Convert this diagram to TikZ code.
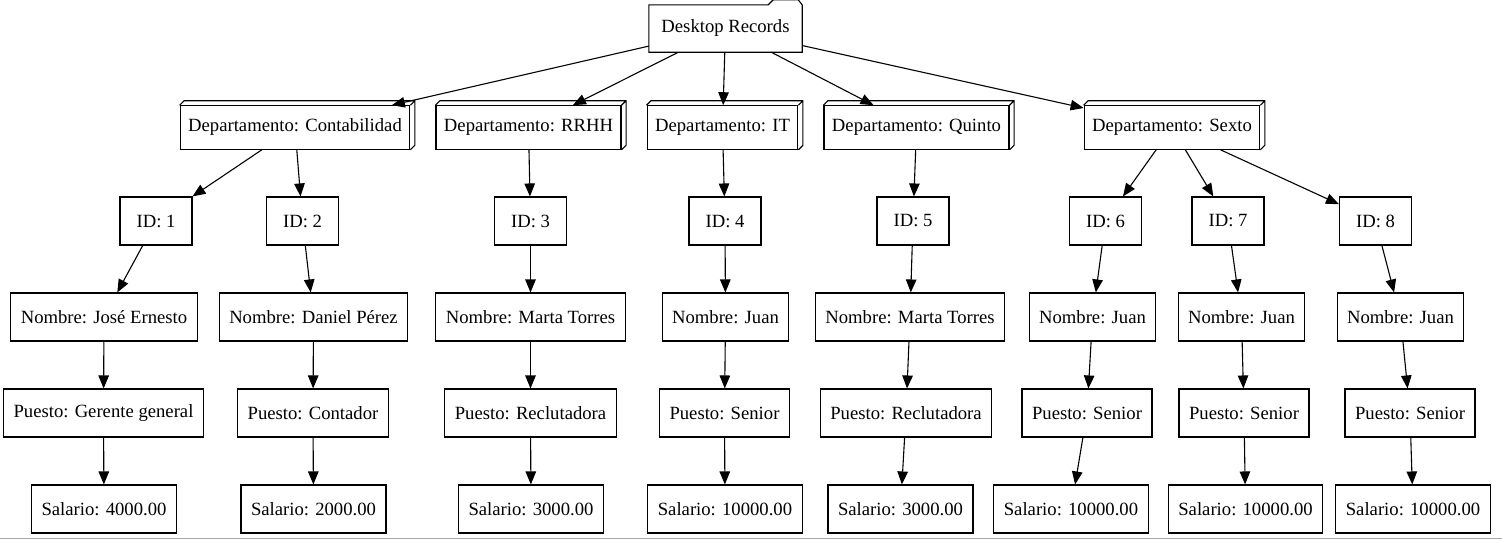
\documentclass[tikz,border=0pt]{standalone}
\usepackage{fontspec}
\setmainfont{Liberation Serif}
\usetikzlibrary{arrows.meta,calc}

\begin{document}
\begin{tikzpicture}[x=1pt, y=-1pt, font=\fontsize{18.67}{22}\selectfont,
  box/.style={draw, line width=1.1pt, minimum width=72pt, minimum height=48pt, inner xsep=10pt},
  depbox/.style={box, minimum height=43.5pt, inner xsep=8pt},
  edge/.style={line width=1.1pt, -{Triangle[length=13pt,width=10.5pt]}}]
\useasboundingbox (0,0) rectangle (1502,539);
% root folder
\node[minimum width=153pt, minimum height=47pt] (root) at (725.5,28.5) {Desktop Records};
\draw[line width=1.1pt] (root.south west) -- (root.north west) -- ([xshift=-34pt]root.north east)
  -- ([xshift=-29pt,yshift=5pt]root.north east) -- ([xshift=-4pt,yshift=5pt]root.north east)
  -- (root.north east) -- (root.south east) -- cycle;
% departments
\foreach \n/\x/\t in {dep1/295/Contabilidad, dep2/528.5/RRHH, dep3/722.5/IT, dep4/916.5/Quinto, dep5/1172/Sexto} {%
  \node[depbox] (\n) at (\x,127.5) {Departamento: \t};
  \draw[line width=1.1pt] (\n.north west) -- ++(4.5,-4.5) -| ([xshift=4.5pt,yshift=4.5pt]\n.south east)
    -- (\n.south east) (\n.north east) -- ++(4.5,-4.5);
  \draw[edge] (root) -- (\n);}
% records
\foreach \i/\d/\xa/\xb/\xc/\xd/\nom/\pue/\sal in {%
  1/dep1/156/104/103.5/104/José Ernesto/Gerente general/4000.00,
  2/dep1/302.5/313.5/313/313.5/Daniel Pérez/Contador/2000.00,
  3/dep2/530.5/530.5/530.5/531/Marta Torres/Reclutadora/3000.00,
  4/dep3/725/725.5/724.5/725/Juan/Senior/10000.00,
  5/dep4/913/910/906/900.5/Marta Torres/Reclutadora/3000.00,
  6/dep5/1105.5/1092.5/1087/1071/Juan/Senior/10000.00,
  7/dep5/1228/1241.5/1244/1245.5/Juan/Senior/10000.00,
  8/dep5/1375.5/1400.5/1410/1413/Juan/Senior/10000.00} {%
  \node[box] (id\i) at (\xa,221) {ID: \i};
  \node[box] (nom\i) at (\xb,317) {Nombre: \nom};
  \node[box] (pue\i) at (\xc,413) {Puesto: \pue};
  \node[box] (sal\i) at (\xd,509) {Salario: \sal};
  \draw[edge] (\d) -- (id\i);
  \draw[edge] (id\i) -- (nom\i);
  \draw[edge] (nom\i) -- (pue\i);
  \draw[edge] (pue\i) -- (sal\i);}
% bottom rule
\draw[black!35, line width=1pt] (0,538) -- (1502,538);
\end{tikzpicture}
\end{document}
